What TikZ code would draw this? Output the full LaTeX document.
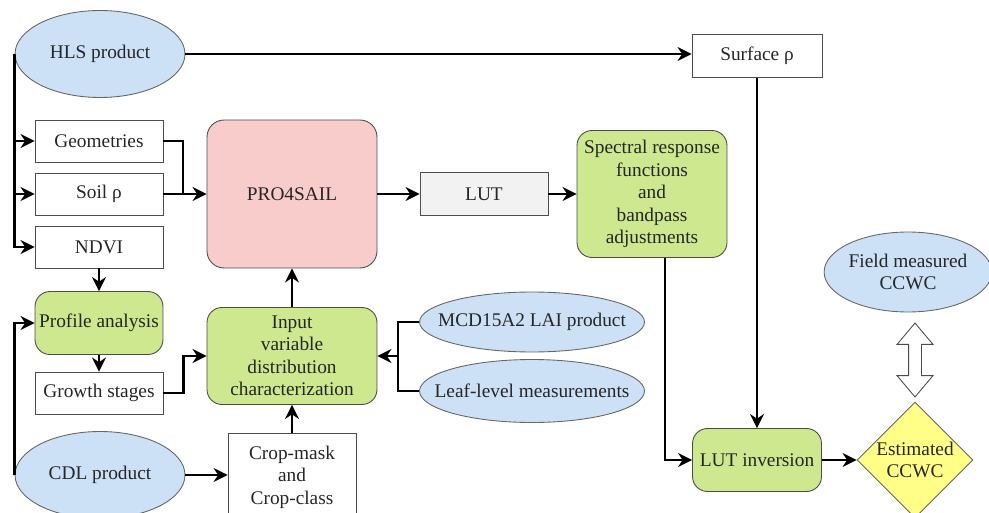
\documentclass[tikz,border=0pt]{standalone}
\usepackage{fontspec}
\setmainfont{Liberation Serif}
\usetikzlibrary{arrows.meta,shapes.geometric,shapes.arrows}

\definecolor{blfill}{HTML}{CCE0F6}
\definecolor{grfill}{HTML}{CDE88F}
\definecolor{pkfill}{HTML}{F9CCCC}
\definecolor{yefill}{HTML}{FFFF88}
\definecolor{gyfill}{HTML}{F2F2F2}

\begin{document}
\begin{tikzpicture}[x=0.02cm,y=-0.02cm,>={Stealth[length=0.28cm,width=0.28cm]},
	every node/.style={font=\fontsize{11}{12.8}\selectfont,text=black!85,align=center,inner sep=0pt},
	box/.style={draw=black!70,line width=0.5pt,rectangle,minimum width=2.56cm,minimum height=0.84cm},
	rbox/.style={box,rounded corners=0.3cm,fill=grfill},
	oval/.style={draw=black!60,line width=0.5pt,ellipse,fill=blfill},
	flow/.style={->,line width=1.6pt},
	line/.style={line width=1.6pt}]
	\clip (0,0) rectangle (989,513);
	% inputs
	\node[oval,minimum width=3.4cm,minimum height=1.74cm] (hls) at (100,54) {HLS product};
	\node[box] (geom) at (99,141) {Geometries};
	\node[box] (soil) at (99,194) {Soil ρ};
	\node[box] (ndvi) at (99,247) {NDVI};
	\node[rbox,minimum height=1.26cm] (prof) at (99,323) {Profile analysis};
	\node[box] (grow) at (99,393) {Growth stages};
	\node[oval,minimum width=3.4cm,minimum height=1.74cm] (cdl) at (100,475) {CDL product};
	\node[box,minimum height=1.76cm] (crop) at (292,477) {Crop-mask\\and\\Crop-class};
	% model
	\node[box,rounded corners=0.34cm,fill=pkfill,minimum width=3.4cm,minimum height=2.96cm] (pro) at (292,194) {PRO4SAIL};
	\node[rbox,minimum width=3.4cm,minimum height=1.94cm] (input) at (292,356) {Input\\variable\\distribution\\characterization};
	\node[oval,inner xsep=-0.4cm,minimum width=4.5cm,minimum height=1.2cm] (mcd) at (532,322) {MCD15A2 LAI product};
	\node[oval,inner xsep=-0.4cm,minimum width=4.5cm,minimum height=1.26cm] (leaf) at (532,391) {Leaf-level measurements};
	\node[box,fill=gyfill,minimum height=0.86cm] (lut) at (484,194) {LUT};
	\node[rbox,minimum width=3cm,minimum height=2.54cm] (spec) at (652,194) {Spectral response\\functions\\and\\bandpass\\adjustments};
	\node[box,minimum width=2.6cm,minimum height=0.86cm] (surf) at (757,56) {Surface ρ};
	\node[rbox,minimum width=2.58cm,minimum height=1.26cm] (lutinv) at (757,460) {LUT inversion};
	\node[diamond,draw=black!60,line width=0.5pt,fill=yefill,minimum width=2.32cm,minimum height=2.32cm] (est) at (915,460) {Estimated\\CCWC};
	\node[oval,minimum width=3.16cm,minimum height=1.6cm] (field) at (908,272) {Field measured\\CCWC};
	\node[double arrow,draw=black!70,line width=0.5pt,fill=white,rotate=90,inner xsep=0pt,inner ysep=0.12cm,
		double arrow head extend=0.23cm,double arrow tip angle=80,minimum height=1.48cm] (cmp) at (915,360) {};
	\coordinate (mergeA) at (183,194);
	\coordinate (join) at (398,356);
	% connectors
	\draw[flow] (hls.east) -- (hls.east -| surf.west);
	\draw[flow] (hls.west) |- (geom.west);
	\draw[flow] (hls.west) |- (soil.west);
	\draw[flow] (hls.west) |- (ndvi.west);
	\draw[line] (geom.east) -| (mergeA);
	\draw[flow] (soil.east) -- (pro.west);
	\draw[flow] (pro.east) -- (lut.west);
	\draw[flow] (lut.east) -- (spec.west);
	\draw[flow] (surf.south) -- (lutinv.north);
	\draw[flow] ([xshift=0.26cm]spec.south) |- (lutinv.west);
	\draw[flow] (lutinv.east) -- (est.west);
	\draw[flow] (ndvi.south) -- (prof.north);
	\draw[flow] (prof.south) -- (grow.north);
	\draw[flow] (grow.east) -- ++(20,0) |- (input.west);
	\draw[flow] (input.north) -- (pro.south);
	\draw[flow] (crop.north) -- (input.south);
	\draw[flow] (cdl.east) -- (cdl.east -| crop.west);
	\draw[flow] (cdl.west) |- (prof.west);
	\draw[line] (mcd.west) -- (mcd.west -| join) |- (leaf.west);
	\draw[flow] (join) -- (input.east);
\end{tikzpicture}
\end{document}
